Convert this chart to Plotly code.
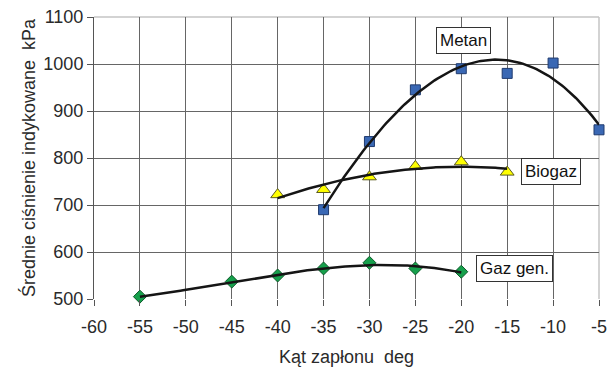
import numpy as np
import plotly.graph_objects as go

# Data
metan_x = [-35, -30, -25, -20, -15, -10, -5]
metan_y = [690, 835, 945, 990, 980, 1002, 860]
biogaz_x = [-40, -35, -30, -25, -20, -15]
biogaz_y = [722, 733, 760, 782, 792, 770]
gaz_x = [-55, -45, -40, -35, -30, -25, -20]
gaz_y = [505, 537, 550, 565, 577, 565, 558]

x_ticks = list(range(-60, 0, 5))
y_ticks = list(range(500, 1101, 100))

FONT = "Liberation Sans, Arial, sans-serif"
TXT = "#2a2a2a"

fig = go.Figure()


def trend(xs, ys, deg):
    c = np.polyfit(xs, ys, deg)
    xx = np.linspace(min(xs), max(xs), 120)
    return xx, np.polyval(c, xx)


series = [
    (metan_x, metan_y, "square", 10, "#3a68b4", "#1f3a6e", 3),
    (biogaz_x, biogaz_y, "triangle-up", 12, "#ffff00", "#5a5a20", 2),
    (gaz_x, gaz_y, "diamond", 10, "#16a04c", "#0e5a2a", 3),
]

for xs, ys, sym, size, col, lc, _ in series:
    fig.add_trace(go.Scatter(
        x=xs, y=ys, mode="markers",
        marker=dict(symbol=sym, size=size, color=col, line=dict(color=lc, width=1)),
        showlegend=False, hoverinfo="skip", cliponaxis=False))

for xs, ys, *_, deg in series:
    tx, ty = trend(xs, ys, deg)
    fig.add_trace(go.Scatter(
        x=tx, y=ty, mode="lines", line=dict(color="#151515", width=2.5),
        showlegend=False, hoverinfo="skip"))

# frame: light top & right borders
fig.add_shape(type="line", xref="x domain", yref="y domain", x0=0, x1=1, y0=1, y1=1,
              line=dict(color="#c4c4c4", width=1.5), layer="below")
fig.add_shape(type="line", xref="x domain", yref="y domain", x0=1, x1=1, y0=0, y1=1,
              line=dict(color="#c4c4c4", width=1.5), layer="below")

labels = [("Metan", -19.8, 1049), ("Biogaz", -10.2, 771), ("Gaz gen.", -14.2, 564)]
for txt, lx, ly in labels:
    fig.add_annotation(x=lx, y=ly, text=txt, showarrow=False,
                       font=dict(family=FONT, size=17, color="#111"),
                       bgcolor="white", bordercolor="#333", borderwidth=1, borderpad=3)

fig.update_xaxes(
    range=[-60, -5], tickvals=x_ticks, ticktext=[str(v) for v in x_ticks],
    showgrid=True, gridcolor="#666666", gridwidth=1,
    ticks="outside", ticklen=6, tickcolor="#555",
    showline=False, zeroline=False, automargin=False,
    ticklabelstandoff=5,
    tickfont=dict(family=FONT, size=18, color=TXT),
    title=dict(text="Kąt zapłonu\u00a0 deg", font=dict(family=FONT, size=18, color=TXT),
               standoff=14),
)
fig.update_yaxes(
    range=[500, 1100], tickvals=y_ticks, ticktext=[str(v) for v in y_ticks],
    showgrid=True, gridcolor="#666666", gridwidth=1,
    ticks="outside", ticklen=6, tickcolor="#555",
    showline=True, linecolor="#555", linewidth=1, zeroline=False, automargin=False,
    tickfont=dict(family=FONT, size=18, color=TXT),
    title=dict(text="Średnie ciśnienie indykowane\u00a0 kPa",
               font=dict(family=FONT, size=18, color=TXT), standoff=3),
)

fig.update_layout(
    width=608, height=369,
    margin=dict(l=94, r=9, t=17, b=70),
    paper_bgcolor="white", plot_bgcolor="white",
)

fig.write_html("out.html")
